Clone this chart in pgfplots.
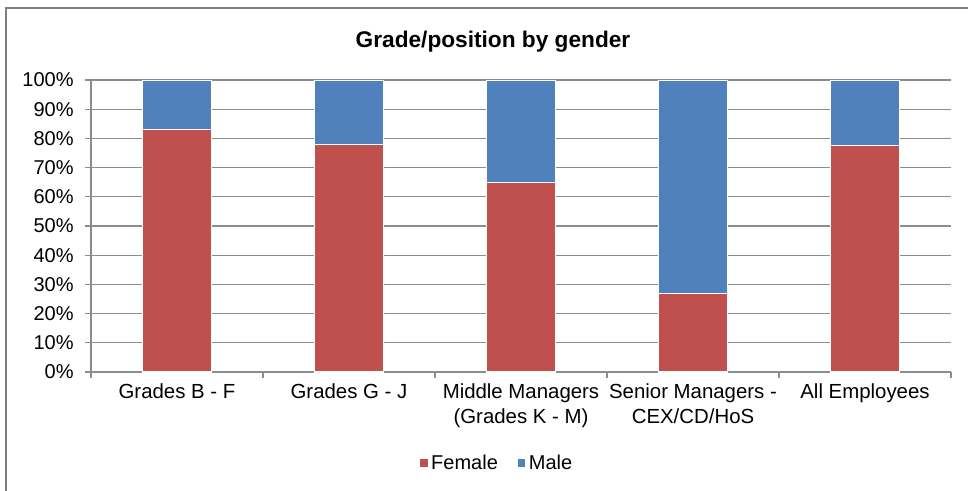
\documentclass[border=0pt]{standalone}
\usepackage{fontspec}
\setmainfont{Liberation Sans}
\usepackage{pgfplots}
\pgfplotsset{compat=1.18}
\definecolor{female}{HTML}{C0504D}
\definecolor{male}{HTML}{4F81BD}
\definecolor{axisgrey}{HTML}{8C8C8C}
\definecolor{framegrey}{HTML}{7F7F7F}

\begin{document}
\begin{tikzpicture}[x=0.75pt,y=0.75pt]
% page = 968 x 490 px, 1 px = 0.75 pt
\useasboundingbox (0,0) rectangle (968,490);
\begin{scope}
  \clip (0,0) rectangle (968,490);
  \draw[framegrey, line width=1.2pt] (6,482) rectangle (990,-20);
\end{scope}
\node[font=\bfseries\fontsize{17}{20}\selectfont] at (493,448) {Grade/position by gender};

\begin{axis}[
    at={(68.25pt,88.5pt)}, anchor=south west,
    scale only axis,
    width=645pt, height=219pt,
    ybar stacked,
    bar width=51.75pt,
    xmin=-0.5, xmax=4.5,
    ymin=0, ymax=100,
    axis x line*=bottom,
    axis y line*=left,
    axis line style={axisgrey, line width=0.9pt, -},
    xtick={0,1,2,3,4},
    xticklabels={Grades B - F, Grades G - J, Middle Managers\\(Grades K - M), Senior Managers -\\CEX/CD/HoS, All Employees},
    x tick label style={align=center, font=\fontsize{15.3}{18.75}\selectfont, yshift=-1pt},
    major x tick style={draw=none},
    minor xtick={-0.5,0.5,1.5,2.5,3.5,4.5},
    minor x tick style={axisgrey, line width=0.9pt},
    ytick={0,10,...,100},
    yticklabel={\pgfmathprintnumber{\tick}\%},
    y tick label style={font=\fontsize{15}{18}\selectfont, xshift=-5pt},
    /pgf/number format/assume math mode=true,
    y tick style={axisgrey, line width=0.9pt},
    tick align=outside,
    major tick length=4.5pt,
    minor tick length=4.5pt,
    ymajorgrids,
    grid style={axisgrey, line width=0.9pt},
    legend style={at={(0.472,-0.312)}, anchor=center, draw=none,
        font=\fontsize{15}{18}\selectfont, legend columns=2,
        /tikz/every even column/.append style={column sep=12pt}},
    legend image code/.code={\fill[#1] (0pt,-3.2pt) rectangle (6.4pt,3.2pt);},
]
\addplot[fill=female, draw=white, line width=0.8pt] coordinates {
    (0,83) (1,77.8) (2,65) (3,27) (4,77.5)
};
\addplot[fill=male, draw=white, line width=0.8pt] coordinates {
    (0,17) (1,22.2) (2,35) (3,73) (4,22.5)
};
\legend{Female, Male}
\end{axis}
\end{tikzpicture}
\end{document}
